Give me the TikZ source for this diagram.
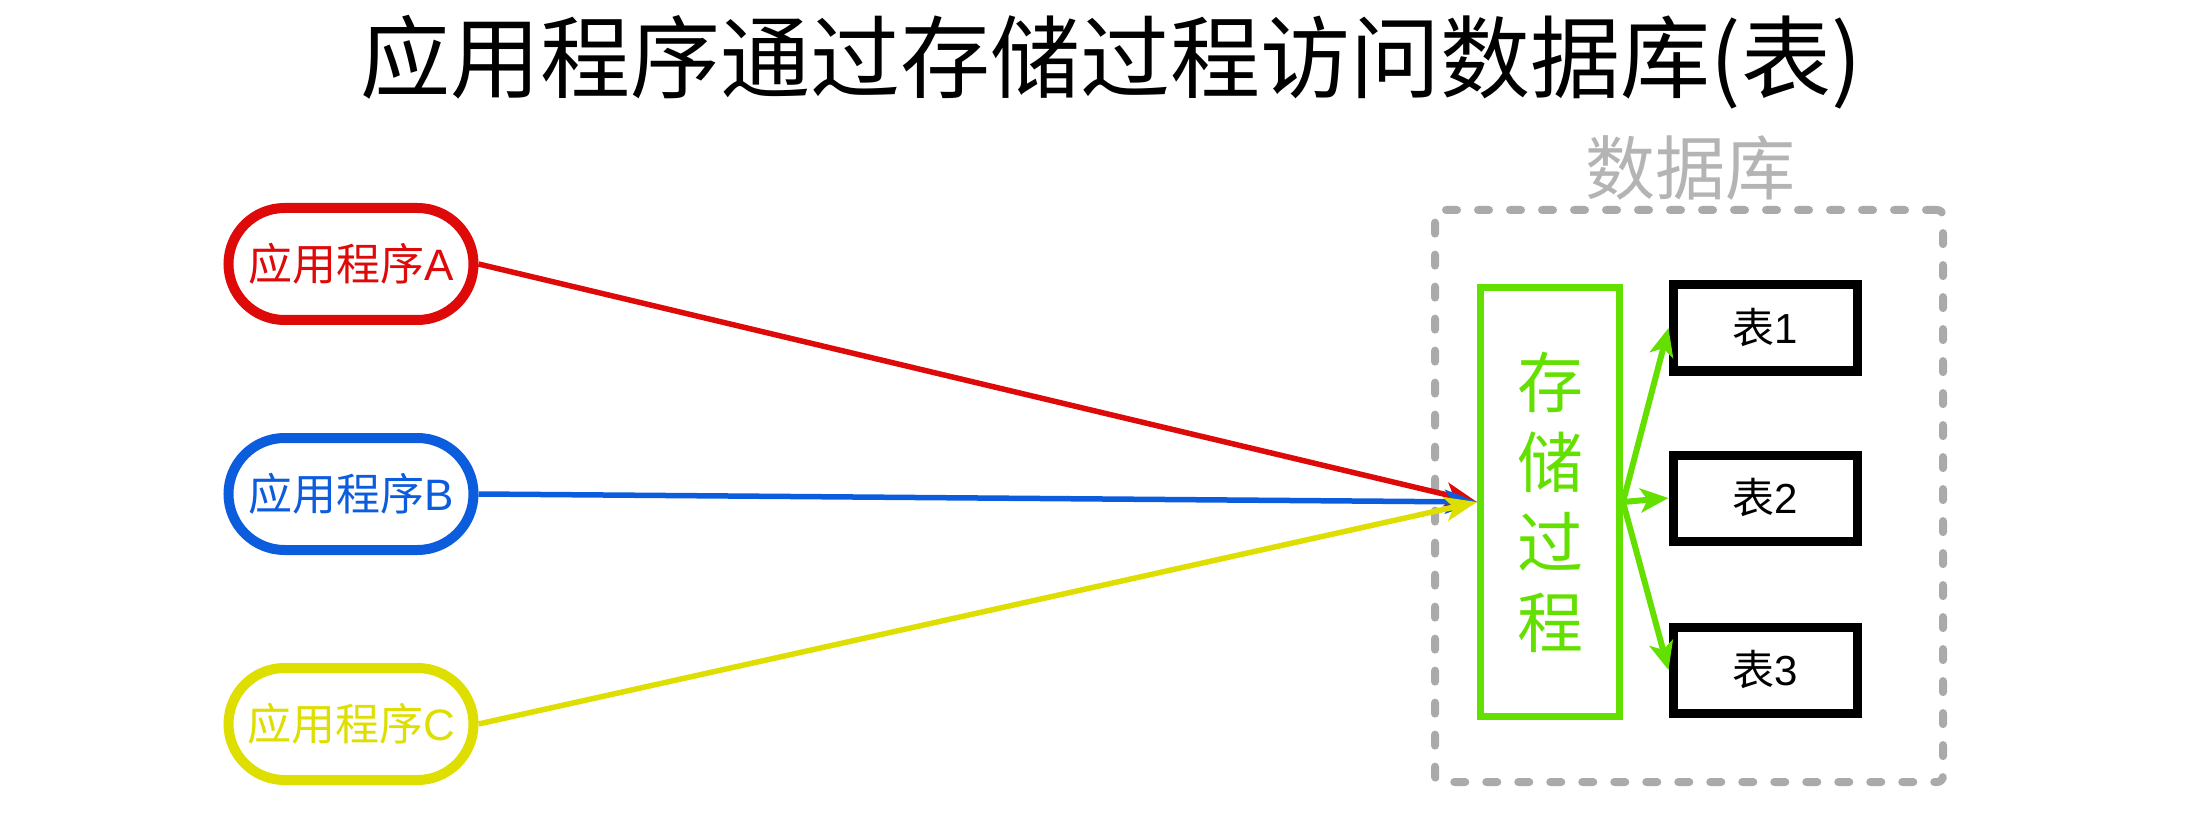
\documentclass[tikz,border=0pt]{standalone}
\usepackage{fontspec}
\setmainfont{Liberation Sans}
\newfontfamily\cjk{Noto Sans CJK SC}
\usetikzlibrary{arrows.meta}
\definecolor{cred}{RGB}{222,10,10}
\definecolor{cblue}{RGB}{12,92,222}
\definecolor{cyel}{RGB}{222,222,0}
\definecolor{cgreen}{RGB}{100,224,0}
\definecolor{cgray}{RGB}{170,170,170}
\definecolor{cgraytext}{RGB}{180,180,180}
\tikzset{
  appbox/.style={draw, line width=10pt, rounded corners=56pt, minimum width=245pt, minimum height=112pt, inner sep=0pt, font=\fontsize{44}{52}\selectfont},
  tablebox/.style={draw=black, line width=9pt, minimum width=184pt, minimum height=86pt, inner sep=0pt, font=\fontsize{42}{50}\selectfont},
  spbox/.style={draw=cgreen, line width=7pt, minimum width=139pt, minimum height=428pt, inner sep=0pt, text=cgreen, align=center, font=\cjk\fontsize{66}{80}\selectfont},
  dbbox/.style={draw=cgray, line width=8pt, dash pattern=on 11pt off 21pt, line cap=round, rounded corners=6pt, minimum width=508pt, minimum height=572pt, inner sep=0pt},
  arr/.style={line width=5.5pt, -{Stealth[length=32pt,width=24pt,inset=8pt]}},
  garr/.style={cgreen, line width=6pt, -{Stealth[length=28pt,width=24pt,inset=7pt]}},
}
\begin{document}
\begin{tikzpicture}[x=1pt,y=-1pt]
\useasboundingbox (0,0) rectangle (2196,834);
\node[font=\cjk\fontsize{90}{100}\selectfont, inner sep=0pt] (title) at (1111,62) {应用程序通过存储过程访问数据库(表)};
\node[dbbox] (db) at (1689,496) {};
\node[text=cgraytext, font=\cjk\fontsize{70}{80}\selectfont, inner sep=0pt] (dblabel) at (1690,168) {数据库};
\node[appbox, draw=cred, text=cred] (A) at (351,264) {{\cjk 应用程序}A};
\node[appbox, draw=cblue, text=cblue] (B) at (351,494) {{\cjk 应用程序}B};
\node[appbox, draw=cyel, text=cyel] (C) at (351,724) {{\cjk 应用程序}C};
\node[spbox] (sp) at (1550,502) {存\\储\\过\\程};
\node[tablebox] (t1) at (1765,328) {{\cjk 表}1};
\node[tablebox] (t2) at (1765,498) {{\cjk 表}2};
\node[tablebox] (t3) at (1765,670) {{\cjk 表}3};
\draw[arr, cred] (A.east) -- (sp.west);
\draw[arr, cblue] (B.east) -- (sp.west);
\draw[arr, cyel] (C.east) -- (sp.west);
\draw[garr] (sp.east) -- (t1.west);
\draw[garr] (sp.east) -- (t2.west);
\draw[garr] (sp.east) -- (t3.west);
\end{tikzpicture}
\end{document}
